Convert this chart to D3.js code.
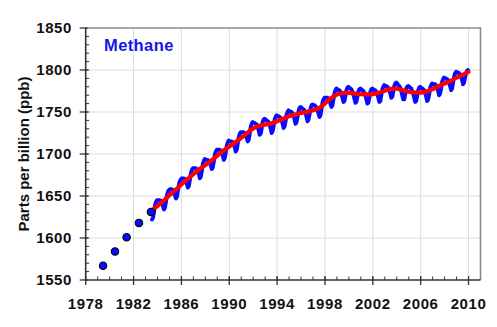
<!DOCTYPE html>
<html>
<head>
<meta charset="utf-8">
<script src="https://cdn.jsdelivr.net/npm/d3@7"></script>
<style>
  html, body { margin: 0; padding: 0; background: #fff; }
  svg { display: block; }
  text { font-family: "Liberation Sans", Arial, sans-serif; font-weight: bold; }
</style>
</head>
<body>
<svg id="chart" width="497" height="327"></svg>
<script>
// Early flask-network annual means (ppb)
const earlyYears = [1979.45, 1980.45, 1981.42, 1982.45, 1983.45];
const earlyValues = [1567, 1584, 1601, 1618, 1631];

// Monthly global mean CH4 (ppb), one row per year, Jan..Dec
const monthlyYears = [1983, 1984, 1985, 1986, 1987, 1988, 1989, 1990, 1991, 1992,
  1993, 1994, 1995, 1996, 1997, 1998, 1999, 2000, 2001, 2002, 2003, 2004, 2005,
  2006, 2007, 2008, 2009];
const monthlyValues = [
  [null, null, null, null, null, null, 1622, 1624, 1631, 1639, 1643, 1645],
  [1645, 1645, 1645, 1644, 1642, 1638, 1634, 1636, 1643, 1651, 1655, 1657],
  [1658, 1658, 1658, 1657, 1655, 1651, 1647, 1649, 1656, 1664, 1668, 1670],
  [1671, 1671, 1671, 1670, 1668, 1664, 1660, 1662, 1669, 1677, 1681, 1683],
  [1683, 1683, 1683, 1682, 1680, 1676, 1671, 1673, 1680, 1688, 1692, 1694],
  [1693, 1693, 1693, 1692, 1690, 1686, 1682, 1684, 1691, 1699, 1703, 1705],
  [1705, 1705, 1705, 1704, 1702, 1698, 1693, 1695, 1702, 1710, 1714, 1716],
  [1715, 1715, 1715, 1714, 1712, 1708, 1703, 1705, 1712, 1720, 1724, 1726],
  [1726, 1726, 1726, 1725, 1723, 1719, 1715, 1717, 1724, 1732, 1736, 1738],
  [1737, 1737, 1736, 1735, 1732, 1728, 1723, 1724, 1730, 1738, 1741, 1742],
  [1741, 1740, 1739, 1738, 1735, 1730, 1725, 1727, 1733, 1741, 1744, 1746],
  [1745, 1745, 1744, 1743, 1740, 1736, 1731, 1733, 1739, 1747, 1750, 1752],
  [1751, 1750, 1750, 1748, 1746, 1741, 1736, 1738, 1744, 1751, 1755, 1756],
  [1755, 1754, 1753, 1752, 1749, 1744, 1739, 1741, 1747, 1754, 1758, 1759],
  [1758, 1758, 1757, 1755, 1753, 1748, 1744, 1746, 1753, 1761, 1765, 1767],
  [1767, 1767, 1767, 1766, 1764, 1760, 1756, 1758, 1765, 1772, 1776, 1778],
  [1777, 1776, 1776, 1774, 1771, 1767, 1762, 1763, 1769, 1776, 1779, 1780],
  [1779, 1778, 1777, 1774, 1771, 1766, 1761, 1762, 1768, 1774, 1777, 1778],
  [1777, 1776, 1775, 1773, 1770, 1765, 1760, 1761, 1767, 1774, 1777, 1778],
  [1777, 1776, 1776, 1774, 1771, 1767, 1762, 1763, 1770, 1777, 1780, 1782],
  [1781, 1781, 1780, 1779, 1776, 1772, 1767, 1768, 1774, 1781, 1784, 1785],
  [1784, 1782, 1781, 1779, 1775, 1770, 1765, 1765, 1771, 1778, 1780, 1781],
  [1780, 1779, 1778, 1775, 1772, 1767, 1762, 1763, 1769, 1776, 1779, 1780],
  [1779, 1778, 1777, 1776, 1773, 1768, 1763, 1765, 1771, 1779, 1782, 1784],
  [1783, 1783, 1783, 1781, 1779, 1775, 1770, 1772, 1778, 1786, 1789, 1791],
  [1790, 1790, 1789, 1788, 1785, 1781, 1776, 1778, 1785, 1792, 1796, 1798],
  [1797, 1797, 1796, 1795, 1792, 1788, 1783, 1785, 1791, 1796, 1799, 1800]
];

// Deseasonalized trend (ppb)
const trendYears = [1983.6, 1984.0, 1984.5, 1985.0, 1985.5, 1986.0, 1986.5, 1987.0,
  1987.5, 1988.0, 1988.5, 1989.0, 1989.5, 1990.0, 1990.5, 1991.0, 1991.5, 1992.0,
  1992.5, 1993.0, 1993.5, 1994.0, 1994.5, 1995.0, 1995.5, 1996.0, 1996.5, 1997.0,
  1997.5, 1998.0, 1998.5, 1999.0, 1999.5, 2000.0, 2000.5, 2001.0, 2001.5, 2002.0,
  2002.5, 2003.0, 2003.5, 2004.0, 2004.5, 2005.0, 2005.5, 2006.0, 2006.5, 2007.0,
  2007.5, 2008.0, 2008.5, 2009.0, 2009.5, 2010.0];
const trendValues = [1634, 1638, 1644, 1651, 1657, 1664, 1670, 1676,
  1682, 1687, 1692, 1698, 1704, 1709, 1714, 1719, 1725, 1731,
  1734, 1735, 1736, 1739, 1742, 1745, 1747, 1749, 1750, 1752,
  1754, 1760, 1767, 1771, 1773, 1773, 1772, 1771, 1771, 1771,
  1773, 1775, 1778, 1778, 1776, 1774, 1773, 1773, 1774, 1777,
  1781, 1784, 1787, 1791, 1794, 1798];

const xTickYears = [1978, 1982, 1986, 1990, 1994, 1998, 2002, 2006, 2010];
const yTickValues = [1550, 1600, 1650, 1700, 1750, 1800, 1850];
const titleText = "Methane";
const yLabelText = "Parts per billion (ppb)";

const svg = d3.select("#chart");
const plotLeft = 85.7, plotRight = 480.5, plotTop = 28, plotBottom = 280;

const x = d3.scaleLinear().domain([1978, 2011]).range([plotLeft, plotRight]);
const y = d3.scaleLinear().domain([1550, 1850]).range([plotBottom, plotTop]);

// Grid
const grid = svg.append("g").attr("stroke", "#dcdcdc").attr("stroke-width", 1);
grid.selectAll("line.v").data(xTickYears.slice(1)).join("line")
  .attr("x1", d => x(d)).attr("x2", d => x(d))
  .attr("y1", plotTop).attr("y2", plotBottom);
grid.selectAll("line.h").data(yTickValues.slice(1, -1)).join("line")
  .attr("x1", plotLeft).attr("x2", plotRight)
  .attr("y1", d => y(d)).attr("y2", d => y(d));

// Frame (top & right)
svg.append("path")
  .attr("d", `M${plotLeft},${plotTop}H${plotRight}V${plotBottom}`)
  .attr("fill", "none").attr("stroke", "#8a8a8a").attr("stroke-width", 1.6);

// Monthly series
const monthly = [];
monthlyYears.forEach((yr, i) => {
  monthlyValues[i].forEach((v, m) => {
    if (v !== null) monthly.push({ t: yr + (m + 0.5) / 12, v });
  });
});
svg.append("path")
  .datum(monthly)
  .attr("fill", "none")
  .attr("stroke", "#0a0aff")
  .attr("stroke-width", 3.9)
  .attr("stroke-linejoin", "round")
  .attr("stroke-linecap", "round")
  .attr("d", d3.line().x(d => x(d.t)).y(d => y(d.v)));

// Trend line
const trend = trendYears.map((t, i) => ({ t, v: trendValues[i] }));
svg.append("path")
  .datum(trend)
  .attr("fill", "none")
  .attr("stroke", "#ff0000")
  .attr("stroke-width", 4.2)
  .attr("stroke-linecap", "round")
  .attr("d", d3.line().x(d => x(d.t)).y(d => y(d.v)).curve(d3.curveBasis));

// Early annual points
svg.append("g").selectAll("circle")
  .data(earlyYears.map((t, i) => ({ t, v: earlyValues[i] })))
  .join("circle")
  .attr("cx", d => x(d.t)).attr("cy", d => y(d.v))
  .attr("r", 3.7)
  .attr("fill", "#0a0aff").attr("stroke", "#000").attr("stroke-width", 1.1);

// Axes
const xAxis = svg.append("g").attr("stroke", "#333");
xAxis.append("line").attr("x1", plotLeft).attr("x2", plotRight)
  .attr("y1", plotBottom).attr("y2", plotBottom).attr("stroke-width", 1.6);
xAxis.selectAll("line.minor").data(d3.range(1979, 2011)).join("line")
  .attr("x1", d => x(d)).attr("x2", d => x(d))
  .attr("y1", plotBottom).attr("y2", plotBottom - 3.5).attr("stroke-width", 1);
xAxis.selectAll("line.major").data(xTickYears).join("line")
  .attr("x1", d => x(d)).attr("x2", d => x(d))
  .attr("y1", plotBottom - 4).attr("y2", plotBottom + 5).attr("stroke-width", 1.3);
svg.append("g").selectAll("text").data(xTickYears).join("text")
  .attr("x", d => x(d)).attr("y", 309)
  .attr("text-anchor", "middle")
  .attr("font-size", 15).attr("letter-spacing", 0.6).attr("fill", "#111")
  .text(d => d);

const yAxis = svg.append("g").attr("stroke", "#333");
yAxis.append("line").attr("x1", plotLeft).attr("x2", plotLeft)
  .attr("y1", plotTop).attr("y2", plotBottom).attr("stroke-width", 1.6);
yAxis.selectAll("line.minor").data(d3.range(1560, 1850, 10)).join("line")
  .attr("x1", plotLeft).attr("x2", plotLeft + 3.5)
  .attr("y1", d => y(d)).attr("y2", d => y(d)).attr("stroke-width", 1);
yAxis.selectAll("line.major").data(yTickValues).join("line")
  .attr("x1", plotLeft - 6).attr("x2", plotLeft + 2)
  .attr("y1", d => y(d)).attr("y2", d => y(d)).attr("stroke-width", 1.3);
svg.append("g").selectAll("text").data(yTickValues).join("text")
  .attr("x", 72).attr("y", d => y(d) + 5.4)
  .attr("text-anchor", "end")
  .attr("font-size", 15).attr("letter-spacing", 0.6).attr("fill", "#111")
  .text(d => d);

// Axis title
svg.append("text")
  .attr("transform", "translate(29,154) rotate(-90)")
  .attr("text-anchor", "middle")
  .attr("font-size", 15).attr("fill", "#111")
  .text(yLabelText);

// Series title
svg.append("text")
  .attr("x", 104).attr("y", 51)
  .attr("font-size", 16.5).attr("letter-spacing", 0.4).attr("fill", "#1414ee")
  .text(titleText);
</script>
</body>
</html>
